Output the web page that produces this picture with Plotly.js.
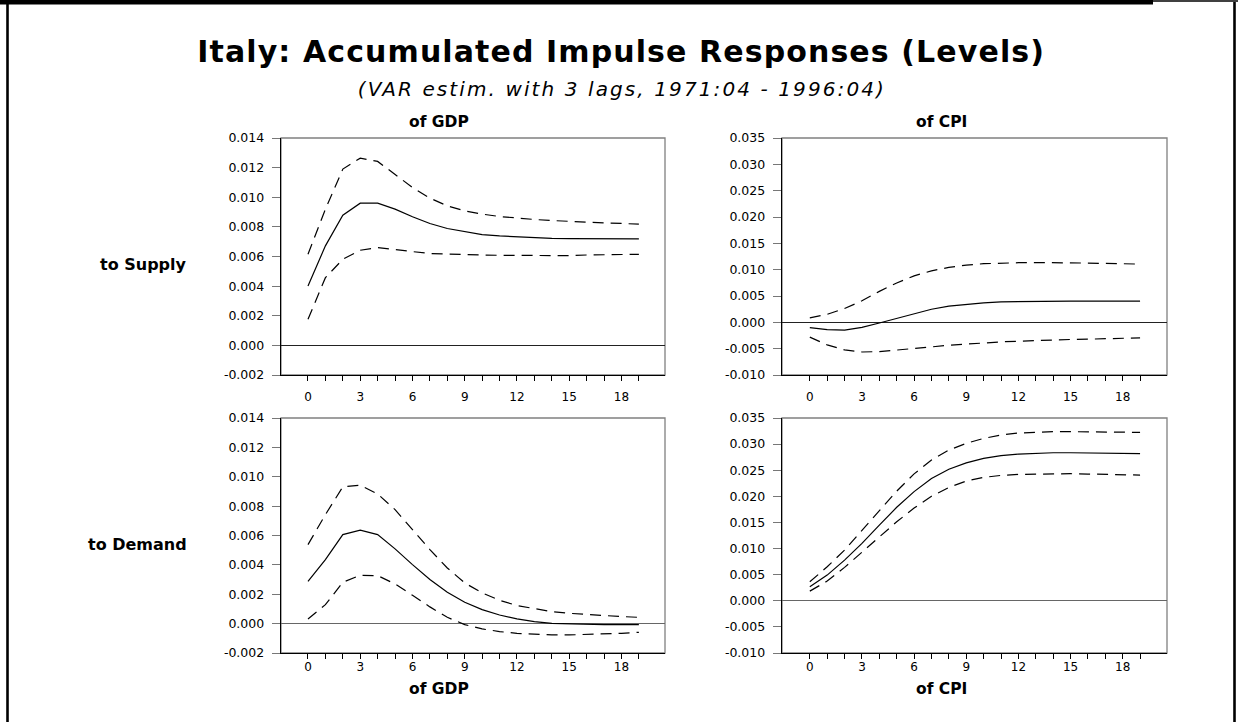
<!DOCTYPE html>
<html>
<head>
<meta charset="utf-8">
<script src="https://cdn.plot.ly/plotly-3.0.1.min.js"></script>
<style>
html,body{margin:0;padding:0;background:#fff;}
#chart{width:1238px;height:722px;}
.annotation[data-index="0"] text{letter-spacing:1.1px;}
.annotation[data-index="1"] text{letter-spacing:2.1px;}
</style>
</head>
<body>
<div id="chart"></div>
<script>
// ---------- data ----------
const horizon = [0,1,2,3,4,5,6,7,8,9,10,11,12,13,14,15,16,17,18,19];

const gdpSupply   = [0.00401,0.00672,0.00879,0.00960,0.00960,0.00920,0.00868,0.00823,0.00789,0.00766,0.00748,0.00739,0.00732,0.00728,0.00723,0.00721,0.00720,0.00719,0.00719,0.00719];
const gdpSupplyHi = [0.00615,0.00920,0.01190,0.01264,0.01242,0.01156,0.01066,0.00994,0.00942,0.00908,0.00886,0.00870,0.00859,0.00850,0.00843,0.00836,0.00832,0.00827,0.00823,0.00818];
const gdpSupplyLo = [0.00176,0.00457,0.00581,0.00642,0.00660,0.00649,0.00633,0.00620,0.00615,0.00611,0.00610,0.00608,0.00607,0.00606,0.00605,0.00606,0.00610,0.00612,0.00613,0.00615];

const cpiSupply   = [-0.00102,-0.00140,-0.00147,-0.00096,-0.00013,0.00077,0.00173,0.00249,0.00307,0.00345,0.00371,0.00390,0.00396,0.00400,0.00402,0.00403,0.00403,0.00403,0.00402,0.00402];
const cpiSupplyHi = [0.00083,0.00153,0.00262,0.00409,0.00588,0.00748,0.00882,0.00978,0.01042,0.01087,0.01113,0.01125,0.01132,0.01135,0.01135,0.01132,0.01125,0.01119,0.01113,0.01106];
const cpiSupplyLo = [-0.00281,-0.00428,-0.00524,-0.00563,-0.00556,-0.00530,-0.00499,-0.00467,-0.00435,-0.00409,-0.00390,-0.00371,-0.00358,-0.00345,-0.00332,-0.00326,-0.00320,-0.00313,-0.00300,-0.00294];

const gdpDemand   = [0.00288,0.00436,0.00606,0.00636,0.00606,0.00509,0.00402,0.00300,0.00213,0.00145,0.00095,0.00059,0.00032,0.00014,0.00002,-0.00002,-0.00005,-0.00007,-0.00007,-0.00007];
const gdpDemandHi = [0.00538,0.00742,0.00931,0.00942,0.00883,0.00776,0.00640,0.00504,0.00379,0.00277,0.00209,0.00159,0.00123,0.00100,0.00082,0.00070,0.00061,0.00054,0.00048,0.00043];
const gdpDemandLo = [0.00032,0.00129,0.00282,0.00329,0.00327,0.00270,0.00193,0.00114,0.00043,-0.00007,-0.00036,-0.00054,-0.00066,-0.00073,-0.00077,-0.00077,-0.00075,-0.00070,-0.00066,-0.00059];

const cpiDemand   = [0.00268,0.00492,0.00779,0.01098,0.01450,0.01790,0.02090,0.02340,0.02520,0.02640,0.02727,0.02778,0.02810,0.02829,0.02835,0.02835,0.02832,0.02826,0.02822,0.02816];
const cpiDemandHi = [0.00364,0.00651,0.00971,0.01354,0.01737,0.02100,0.02430,0.02695,0.02886,0.03014,0.03110,0.03174,0.03212,0.03231,0.03238,0.03238,0.03235,0.03231,0.03225,0.03225];
const cpiDemandLo = [0.00185,0.00377,0.00639,0.00926,0.01226,0.01513,0.01775,0.02000,0.02171,0.02292,0.02363,0.02401,0.02420,0.02427,0.02433,0.02433,0.02427,0.02420,0.02414,0.02407];

const xTickVals = horizon;
const xTickText = ['0','','','3','','','6','','','9','','','12','','','15','','','18',''];
const gdpTickVals = [-0.002,0,0.002,0.004,0.006,0.008,0.010,0.012,0.014];
const gdpTickText = ['-0.002','0.000','0.002','0.004','0.006','0.008','0.010','0.012','0.014'];
const cpiTickVals = [-0.010,-0.005,0,0.005,0.010,0.015,0.020,0.025,0.030,0.035];
const cpiTickText = ['-0.010','-0.005','0.000','0.005','0.010','0.015','0.020','0.025','0.030','0.035'];

const mainTitle = 'Italy: Accumulated Impulse Responses (Levels)';
const subTitle = '(VAR estim. with 3 lags, 1971:04 - 1996:04)';
const colTitles = ['of GDP','of CPI'];
const rowTitles = ['to Supply','to Demand'];

// ---------- layout helpers ----------
const W = 1238, H = 722;
const px = v => v / W;
const py = v => 1 - v / H;
const FONT = 'DejaVu Sans';

function band(axN, val, dashed) {
  const s = axN === 1 ? '' : String(axN);
  return {
    x: horizon, y: val, type: 'scatter', mode: 'lines',
    xaxis: 'x' + s, yaxis: 'y' + s,
    line: {color: '#000', width: 1.2, dash: dashed ? '11px,7px' : 'solid'},
    hoverinfo: 'skip', showlegend: false
  };
}

const traces = [
  band(1, gdpSupplyHi, true), band(1, gdpSupplyLo, true), band(1, gdpSupply, false),
  band(2, cpiSupplyHi, true), band(2, cpiSupplyLo, true), band(2, cpiSupply, false),
  band(3, gdpDemandHi, true), band(3, gdpDemandLo, true), band(3, gdpDemand, false),
  band(4, cpiDemandHi, true), band(4, cpiDemandLo, true), band(4, cpiDemand, false)
];

function xAx(domain, range, anchor, standoff) {
  return {
    domain: domain, range: range, anchor: anchor,
    tickmode: 'array', tickvals: xTickVals, ticktext: xTickText,
    ticks: 'outside', ticklen: 5, tickwidth: 1, tickcolor: '#000',
    ticklabelstandoff: standoff,
    showline: true, linecolor: '#000', linewidth: 1.3,
    showgrid: false, zeroline: false, fixedrange: true,
    tickfont: {family: FONT, size: 12, color: '#000'}
  };
}
function yAx(domain, range, vals, text, anchor, zc) {
  return {
    domain: domain, range: range, anchor: anchor,
    tickmode: 'array', tickvals: vals, ticktext: text,
    ticks: 'outside', ticklen: 8, tickwidth: 1, tickcolor: '#777',
    ticklabelstandoff: 5,
    showline: true, linecolor: '#000', linewidth: 1.3,
    showgrid: false, zeroline: true, zerolinecolor: zc, zerolinewidth: 1.2,
    fixedrange: true,
    tickfont: {family: FONT, size: 12.5, color: '#000'}
  };
}

const xL = [px(281), px(665)];
const xR = [px(782), px(1167)];
const yT = [py(375), py(138)];
const yB = [py(653), py(418)];

const boxes = ['', '2', '3', '4'].map(s => ({
  type: 'rect', xref: 'x' + s + ' domain', yref: 'y' + s + ' domain',
  x0: 0, x1: 1, y0: 0, y1: 1, layer: 'below',
  line: {color: '#808080', width: 1.3}
}));

const frame = [
  {type: 'rect', xref: 'paper', yref: 'paper', x0: 0, x1: px(1153), y0: py(4.5), y1: 1,
   fillcolor: '#000', line: {width: 0}},
  {type: 'line', xref: 'paper', yref: 'paper', x0: px(1153), x1: 1, y0: py(1), y1: py(1),
   line: {color: '#000', width: 1.5}},
  {type: 'line', xref: 'paper', yref: 'paper', x0: px(7.5), x1: px(7.5), y0: 0, y1: 1,
   line: {color: '#000', width: 2.6}},
  {type: 'line', xref: 'paper', yref: 'paper', x0: px(1234.5), x1: px(1234.5), y0: 0, y1: py(2),
   line: {color: '#000', width: 2.6}}
];

function ann(text, x, y, size, opts) {
  return Object.assign({
    text: text, xref: 'paper', yref: 'paper', x: x, y: y,
    xanchor: 'center', yanchor: 'middle', showarrow: false,
    font: {family: FONT, size: size, color: '#000', weight: 700}
  }, opts || {});
}

const annotations = [
  ann(mainTitle, px(621), py(52), 30),
  ann(subTitle, px(622), py(89), 20,
      {font: {family: FONT, size: 20, color: '#000', style: 'italic'}}),
  ann(colTitles[0], px(439), py(122), 15.5),
  ann(colTitles[1], px(941), py(122), 15.5),
  ann(colTitles[0], px(439), py(689), 15.5),
  ann(colTitles[1], px(941), py(689), 15.5),
  ann(rowTitles[0], px(189), py(265), 16, {xanchor: 'right'}),
  ann(rowTitles[1], px(189), py(544), 16, {xanchor: 'right'})
];

const layout = {
  width: W, height: H,
  margin: {l: 0, r: 0, t: 0, b: 0},
  paper_bgcolor: '#fff', plot_bgcolor: 'rgba(0,0,0,0)',
  showlegend: false,
  xaxis:  xAx(xL, [-1.55, 20.5], 'y', 5),
  yaxis:  yAx(yT, [-0.002, 0.014], gdpTickVals, gdpTickText, 'x', '#222'),
  xaxis2: xAx(xR, [-1.6, 20.55], 'y2', 5),
  yaxis2: yAx(yT, [-0.010, 0.035], cpiTickVals, cpiTickText, 'x2', '#222'),
  xaxis3: xAx(xL, [-1.55, 20.5], 'y3', -3),
  yaxis3: yAx(yB, [-0.002, 0.014], gdpTickVals, gdpTickText, 'x3', '#666'),
  xaxis4: xAx(xR, [-1.6, 20.55], 'y4', -3),
  yaxis4: yAx(yB, [-0.010, 0.035], cpiTickVals, cpiTickText, 'x4', '#666'),
  shapes: boxes.concat(frame),
  annotations: annotations
};

Plotly.newPlot('chart', traces, layout, {displayModeBar: false, staticPlot: true});
</script>
</body>
</html>
